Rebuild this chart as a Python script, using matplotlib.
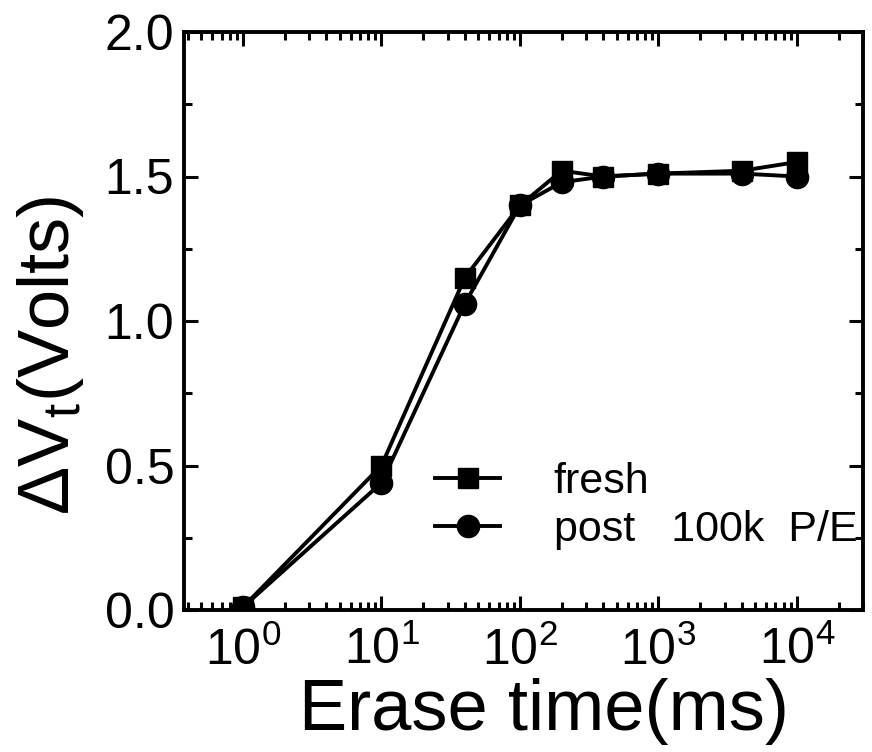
import numpy as np
import matplotlib
matplotlib.use("Agg")
import matplotlib.pyplot as plt
from matplotlib.ticker import LogLocator, MultipleLocator, FuncFormatter, NullFormatter

plt.rcParams['font.family'] = ['Liberation Sans', 'DejaVu Sans']
plt.rcParams['mathtext.fontset'] = 'custom'
plt.rcParams['mathtext.rm'] = 'Liberation Sans'
plt.rcParams['mathtext.it'] = 'Liberation Sans'

# erase time (ms)
t_fresh = [1, 10, 40, 100, 200, 400, 1000, 4000, 10000]
dv_fresh = [0.01, 0.50, 1.15, 1.40, 1.52, 1.50, 1.51, 1.52, 1.55]
t_post = [1, 10, 40, 100, 200, 400, 1000, 4000, 10000]
dv_post = [0.01, 0.44, 1.06, 1.40, 1.48, 1.50, 1.51, 1.51, 1.50]

fig = plt.figure(figsize=(8.72, 7.52), dpi=100)
ax = fig.add_axes([184/872, 1 - 610/752, (863-184)/872, (610-32)/752])

ax.plot(t_fresh, dv_fresh, 'k-', marker='s', ms=15, lw=2.8, label='fresh')
ax.plot(t_post, dv_post, 'k-', marker='o', ms=16, lw=2.8, label='post   100k  P/E')

ax.set_xscale('log')
ax.set_xlim(0.375, 3e4)
ax.set_ylim(0, 2.0)

ax.xaxis.set_major_locator(LogLocator(base=10, numticks=10))
ax.xaxis.set_minor_locator(LogLocator(base=10, subs=np.arange(2, 10), numticks=20))
ax.xaxis.set_minor_formatter(NullFormatter())
ax.xaxis.set_major_formatter(FuncFormatter(lambda v, p: r'$\mathregular{10^{%d}}$' % round(np.log10(v))))
ax.yaxis.set_major_locator(MultipleLocator(0.5))
ax.yaxis.set_minor_locator(MultipleLocator(0.25))
ax.yaxis.set_major_formatter(FuncFormatter(lambda v, p: '%.1f' % v))

ax.tick_params(which='both', direction='in', top=True, right=True, width=2.2)
ax.tick_params(which='major', length=10)
ax.tick_params(which='minor', length=5.5)
ax.tick_params(axis='x', which='major', labelsize=36, pad=12)
ax.tick_params(axis='y', which='major', labelsize=36, pad=7)
for s in ax.spines.values():
    s.set_linewidth(2.8)

ax.set_xlabel('Erase time(ms)', fontsize=52)
ax.xaxis.set_label_coords(0.53, -0.118)
ax.set_ylabel(r'ΔV$_\mathregular{t}$(Volts)', fontsize=52)
ax.yaxis.set_label_coords(-0.145, 0.44)

ax.legend(loc='center left', bbox_to_anchor=(0.37, 0.18), frameon=False,
          fontsize=31, handlelength=1.5, handletextpad=1.25, labelspacing=0.2,
          borderpad=0, borderaxespad=0)

fig.savefig('out.png', dpi=100)
